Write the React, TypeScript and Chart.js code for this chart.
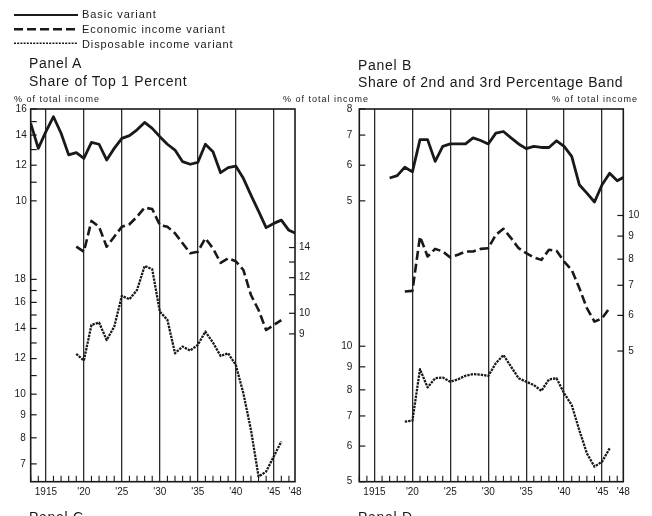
import React, { useEffect, useRef } from 'react';
import { Chart, registerables } from 'chart.js';

Chart.register(...registerables);

const FONT = "'Liberation Sans', Arial, sans-serif";
const INK = '#1b1917';
const GRID = '#2e2925';

// ---------- Panel A: Share of Top 1 Percent ----------
const basicYearsA = [1913, 1914, 1915, 1916, 1917, 1918, 1919, 1920, 1921, 1922, 1923, 1924, 1925, 1926, 1927, 1928, 1929, 1930, 1931, 1932, 1933, 1934, 1935, 1936, 1937, 1938, 1939, 1940, 1941, 1942, 1943, 1944, 1945, 1946, 1947, 1948];
const basicA = [14.87, 13.08, 14.25, 15.38, 14.13, 12.65, 12.8, 12.43, 13.49, 13.36, 12.33, 13.08, 13.77, 13.96, 14.38, 14.94, 14.49, 13.89, 13.36, 12.97, 12.22, 12.06, 12.17, 13.36, 12.86, 11.55, 11.85, 11.95, 11.22, 10.3, 9.49, 8.72, 8.91, 9.06, 8.6, 8.45];
const variantYearsA = [1919, 1920, 1921, 1922, 1923, 1924, 1925, 1926, 1927, 1928, 1929, 1930, 1931, 1932, 1933, 1934, 1935, 1936, 1937, 1938, 1939, 1940, 1941, 1942, 1943, 1944, 1945, 1946];
const economicA = [14.06, 13.7, 16.04, 15.57, 14.06, 14.8, 15.57, 15.77, 16.39, 17.17, 17.05, 15.71, 15.57, 15.06, 14.31, 13.6, 13.7, 14.68, 13.94, 12.95, 13.25, 13.05, 12.48, 10.98, 10.17, 9.18, 9.42, 9.66];
const disposableA = [12.29, 11.88, 14.26, 14.43, 13.2, 14.13, 16.54, 16.26, 17.05, 19.28, 18.96, 15.26, 14.63, 12.33, 12.76, 12.5, 12.87, 13.78, 13.02, 12.16, 12.33, 11.62, 10.05, 8.33, 6.56, 6.73, 7.27, 7.85];

// ---------- Panel B: Share of 2nd and 3rd Percentage Band ----------
const basicYearsB = [1917, 1918, 1919, 1920, 1921, 1922, 1923, 1924, 1925, 1926, 1927, 1928, 1929, 1930, 1931, 1932, 1933, 1934, 1935, 1936, 1937, 1938, 1939, 1940, 1941, 1942, 1943, 1944, 1945, 1946, 1947, 1948];
const basicB = [5.62, 5.69, 5.94, 5.8, 6.84, 6.84, 6.12, 6.61, 6.69, 6.69, 6.69, 6.9, 6.81, 6.69, 7.07, 7.13, 6.9, 6.69, 6.53, 6.61, 6.57, 6.57, 6.8, 6.61, 6.28, 5.43, 5.2, 4.97, 5.43, 5.76, 5.54, 5.66];
const variantYearsB = [1919, 1920, 1921, 1922, 1923, 1924, 1925, 1926, 1927, 1928, 1929, 1930, 1931, 1932, 1933, 1934, 1935, 1936, 1937, 1938, 1939, 1940, 1941, 1942, 1943, 1944, 1945, 1946];
const economicB = [6.78, 6.8, 8.98, 8.11, 8.43, 8.32, 8.07, 8.18, 8.32, 8.32, 8.43, 8.46, 9.06, 9.34, 8.91, 8.46, 8.25, 8.07, 7.97, 8.39, 8.35, 7.9, 7.57, 6.9, 6.23, 5.81, 5.91, 6.23];
const disposableB = [6.8, 6.83, 8.89, 8.1, 8.49, 8.52, 8.34, 8.44, 8.6, 8.67, 8.65, 8.59, 9.17, 9.56, 9.01, 8.49, 8.34, 8.2, 7.96, 8.44, 8.49, 7.86, 7.4, 6.51, 5.78, 5.4, 5.54, 5.93];

// ---------- Axis ticks ----------
const yearTicks = [1915, 1920, 1925, 1930, 1935, 1940, 1945, 1948];
const yearTickLabels = ['1915', "'20", "'25", "'30", "'35", "'40", "'45", "'48"];
const X_MIN = 1913;
const X_MAX = 1947.8;

const basicTicksA = [10, 11, 12, 13, 14, 15, 16];
const basicLabelsA = [10, 12, 14, 16];
const dispTicksA = [7, 8, 9, 10, 11, 12, 13, 14, 15, 16, 17, 18];
const dispLabelsA = [7, 8, 9, 10, 12, 14, 16, 18];
const econTicksA = [9, 10, 11, 12, 13, 14];
const econLabelsA = [9, 10, 12, 14];

const basicTicksB = [5, 6, 7, 8];
const dispTicksB = [5, 6, 7, 8, 9, 10];
const econTicksB = [5, 6, 7, 8, 9, 10];

type Kind = 'basic' | 'economic' | 'disposable';
type AxisSpec = { id: string; position: 'left' | 'right'; min: number; max: number; ticks: number[]; labels: number[]; pad: number };
type SeriesSpec = { label: string; years: number[]; values: number[]; axis: string; kind: Kind };

const styleFor = (k: Kind) => {
  if (k === 'basic') return { borderWidth: 2.8, borderDash: [] as number[] };
  if (k === 'economic') return { borderWidth: 2.6, borderDash: [9, 4] };
  return { borderWidth: 2.3, borderDash: [2.4, 1] };
};

const decorPlugin = {
  id: 'decor',
  afterDatasetsDraw(chart: any) {
    const { ctx, chartArea: a, scales } = chart;
    const specs: AxisSpec[] = chart.options.plugins.decor.axes;
    ctx.save();
    ctx.strokeStyle = INK;
    ctx.lineWidth = 1.6;
    ctx.strokeRect(a.left, a.top, a.right - a.left, a.bottom - a.top);
    ctx.lineWidth = 1.1;
    const xs = scales.x;
    ctx.beginPath();
    for (let yr = Math.ceil(xs.min); yr <= xs.max; yr++) {
      if (yr % 5 === 0) continue;
      const px = xs.getPixelForValue(yr);
      ctx.moveTo(px, a.bottom);
      ctx.lineTo(px, a.bottom - 6);
    }
    ctx.stroke();
    ctx.lineWidth = 1.2;
    ctx.fillStyle = INK;
    ctx.font = `10px ${FONT}`;
    ctx.textBaseline = 'middle';
    specs.forEach((spec) => {
      const s = scales[spec.id];
      const left = spec.position === 'left';
      const x0 = left ? a.left : a.right;
      const dir = left ? 1 : -1;
      ctx.textAlign = left ? 'right' : 'left';
      s.ticks.forEach((t: any) => {
        const py = s.getPixelForValue(t.value);
        ctx.beginPath();
        ctx.moveTo(x0, py);
        ctx.lineTo(x0 + dir * 6, py);
        ctx.stroke();
        if (spec.labels.includes(t.value)) {
          ctx.fillText(String(t.value), x0 - dir * spec.pad, py);
        }
      });
    });
    ctx.restore();
  },
};

function PanelChart(props: { left: number; width: number; padLeft: number; padRight: number; axes: AxisSpec[]; series: SeriesSpec[] }) {
  const ref = useRef<HTMLCanvasElement>(null);
  useEffect(() => {
    const tickFont = { family: FONT, size: 10 };
    const scales: any = {
      x: {
        type: 'linear',
        min: X_MIN,
        max: X_MAX,
        bounds: 'data',
        afterBuildTicks: (s: any) => {
          s.ticks = yearTicks.map((v) => ({ value: Math.min(v, X_MAX) }));
        },
        afterFit: (s: any) => {
          s.height = 34.3;
        },
        grid: {
          display: true,
          drawOnChartArea: true,
          drawTicks: false,
          lineWidth: 1.3,
          color: (c: any) => (c.tick && c.tick.value > 1946 ? 'rgba(0,0,0,0)' : GRID),
        },
        border: { display: false },
        ticks: {
          autoSkip: false,
          maxRotation: 0,
          padding: 5,
          font: tickFont,
          color: INK,
          callback: (_v: any, i: number) => yearTickLabels[i],
        },
      },
    };
    props.axes.forEach((ax) => {
      scales[ax.id] = {
        type: 'logarithmic',
        position: ax.position,
        min: ax.min,
        max: ax.max,
        bounds: 'data',
        afterBuildTicks: (s: any) => {
          s.ticks = ax.ticks.map((v) => ({ value: v }));
        },
        afterFit: (s: any) => {
          s.width = 0;
        },
        grid: { display: false, drawTicks: false },
        border: { display: false },
        ticks: { display: false, autoSkip: false },
      };
    });
    const datasets = props.series.map((s) => ({
      label: s.label,
      data: s.years.map((yr, i) => ({ x: yr, y: s.values[i] })),
      yAxisID: s.axis,
      borderColor: INK,
      backgroundColor: INK,
      pointRadius: 0,
      fill: false,
      tension: 0,
      borderJoinStyle: 'round',
      borderCapStyle: 'butt',
      ...styleFor(s.kind),
    }));
    const chart = new Chart(ref.current as HTMLCanvasElement, {
      type: 'line',
      data: { datasets } as any,
      options: {
        animation: false,
        responsive: false,
        devicePixelRatio: 1,
        layout: { padding: { left: props.padLeft, right: props.padRight, top: 109, bottom: 0 } },
        plugins: { legend: { display: false }, tooltip: { enabled: false }, decor: { axes: props.axes } },
        scales,
      } as any,
      plugins: [decorPlugin],
    });
    return () => chart.destroy();
  }, []);
  return (
    <canvas
      ref={ref}
      width={props.width}
      height={516}
      style={{ position: 'absolute', left: props.left, top: 0, width: props.width, height: 516 }}
    />
  );
}

const txt = (left: number, top: number, size: number, spacing: number): React.CSSProperties => ({
  position: 'absolute',
  left,
  top,
  fontFamily: FONT,
  fontSize: size,
  lineHeight: 1,
  letterSpacing: spacing,
  color: INK,
  whiteSpace: 'nowrap',
});

export default function App() {
  const axesA: AxisSpec[] = [
    { id: 'yBasic', position: 'left', min: 2.376, max: 16, ticks: basicTicksA, labels: basicLabelsA, pad: 4 },
    { id: 'yDisp', position: 'left', min: 6.39, max: 43.05, ticks: dispTicksA, labels: dispLabelsA, pad: 5 },
    { id: 'yEcon', position: 'right', min: 4.225, max: 28.44, ticks: econTicksA, labels: econLabelsA, pad: 4 },
  ];
  const seriesA: SeriesSpec[] = [
    { label: 'Basic variant', years: basicYearsA, values: basicA, axis: 'yBasic', kind: 'basic' },
    { label: 'Economic income variant', years: variantYearsA, values: economicA, axis: 'yEcon', kind: 'economic' },
    { label: 'Disposable income variant', years: variantYearsA, values: disposableA, axis: 'yDisp', kind: 'disposable' },
  ];
  const axesB: AxisSpec[] = [
    { id: 'yBasic', position: 'left', min: 1.188, max: 8, ticks: basicTicksB, labels: basicTicksB, pad: 7 },
    { id: 'yDisp', position: 'left', min: 5, max: 33.67, ticks: dispTicksB, labels: dispTicksB, pad: 7 },
    { id: 'yEcon', position: 'right', min: 2.563, max: 17.24, ticks: econTicksB, labels: econTicksB, pad: 5 },
  ];
  const seriesB: SeriesSpec[] = [
    { label: 'Basic variant', years: basicYearsB, values: basicB, axis: 'yBasic', kind: 'basic' },
    { label: 'Economic income variant', years: variantYearsB, values: economicB, axis: 'yEcon', kind: 'economic' },
    { label: 'Disposable income variant', years: variantYearsB, values: disposableB, axis: 'yDisp', kind: 'disposable' },
  ];
  return (
    <div style={{ position: 'absolute', left: 0, top: 0, width: 652, height: 516, overflow: 'hidden', background: '#fff' }}>
      <PanelChart left={0} width={326} padLeft={30.7} padRight={31} axes={axesA} series={seriesA} />
      <PanelChart left={326} width={326} padLeft={33.3} padRight={28.7} axes={axesB} series={seriesB} />
      <svg width={90} height={55} style={{ position: 'absolute', left: 0, top: 0 }}>
        <line x1={14} y1={15} x2={78} y2={15} stroke={INK} strokeWidth={2} />
        <line x1={14} y1={29.3} x2={78} y2={29.3} stroke={INK} strokeWidth={2.4} strokeDasharray="9 4" />
        <line x1={14} y1={43.3} x2={78} y2={43.3} stroke={INK} strokeWidth={1.6} strokeDasharray="2 1.2" />
      </svg>
      <div style={txt(82, 9.3, 11, 0.9)}>Basic variant</div>
      <div style={txt(82, 24.3, 11, 0.9)}>Economic income variant</div>
      <div style={txt(82, 38.6, 11, 0.9)}>Disposable income variant</div>
      <div style={txt(29, 56.1, 14, 0.7)}>Panel A</div>
      <div style={txt(29, 74.1, 14, 0.7)}>Share of Top 1 Percent</div>
      <div style={txt(358, 58, 14, 0.7)}>Panel B</div>
      <div style={txt(358, 75, 14, 0.6)}>Share of 2nd and 3rd Percentage Band</div>
      <div style={txt(14, 94.6, 9, 1)}>% of total income</div>
      <div style={txt(283, 94.6, 9, 1)}>% of total income</div>
      <div style={txt(552, 94.6, 9, 1)}>% of total income</div>
      <div style={txt(29, 509.5, 14, 0.7)}>Panel C</div>
      <div style={txt(358, 509.5, 14, 0.7)}>Panel D</div>
    </div>
  );
}
